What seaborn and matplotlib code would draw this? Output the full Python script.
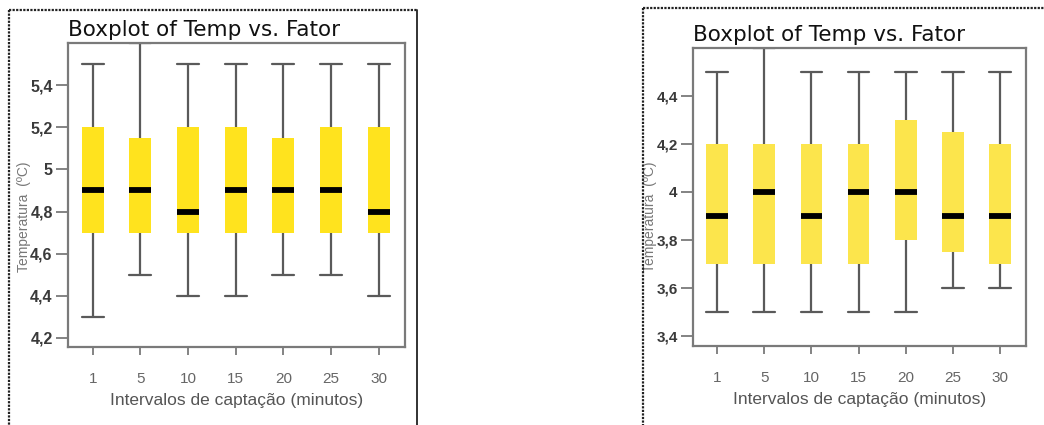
import numpy as np
import pandas as pd
import seaborn as sns
import matplotlib
matplotlib.use("Agg")
import matplotlib.pyplot as plt
from matplotlib.ticker import FuncFormatter
from matplotlib.lines import Line2D

# ---- data (five-number summaries) ----
intervals = ["1", "5", "10", "15", "20", "25", "30"]

left_min = [4.3, 4.5, 4.4, 4.4, 4.5, 4.5, 4.4]
left_q1 = [4.7, 4.7, 4.7, 4.7, 4.7, 4.7, 4.7]
left_med = [4.9, 4.9, 4.8, 4.9, 4.9, 4.9, 4.8]
left_q3 = [5.2, 5.15, 5.2, 5.2, 5.15, 5.2, 5.2]
left_max = [5.5, 5.6, 5.5, 5.5, 5.5, 5.5, 5.5]

right_min = [3.5, 3.5, 3.5, 3.5, 3.5, 3.6, 3.6]
right_q1 = [3.7, 3.7, 3.7, 3.7, 3.8, 3.75, 3.7]
right_med = [3.9, 4.0, 3.9, 4.0, 4.0, 3.9, 3.9]
right_q3 = [4.2, 4.2, 4.2, 4.2, 4.3, 4.25, 4.2]
right_max = [4.5, 4.6, 4.5, 4.5, 4.5, 4.5, 4.5]

left_ticks = [4.2, 4.4, 4.6, 4.8, 5.0, 5.2, 5.4]
right_ticks = [3.4, 3.6, 3.8, 4.0, 4.2, 4.4]

title = "Boxplot of Temp vs. Fator"
xlabel = "Intervalos de captação (minutos)"
ylabel = "Temperatura  (ºC)"


def frame(mins, q1s, meds, q3s, maxs):
    rows = []
    for cat, a, b, c, d, e in zip(intervals, mins, q1s, meds, q3s, maxs):
        for v in (a, b, c, d, e):
            rows.append({"Intervalo": cat, "Temp": v})
    return pd.DataFrame(rows)


df_left = frame(left_min, left_q1, left_med, left_q3, left_max)
df_right = frame(right_min, right_q1, right_med, right_q3, right_max)

sns.set_theme(style="white")
plt.rcParams["font.family"] = ["DejaVu Sans"]

W, H = 1044, 425
fig = plt.figure(figsize=(W / 100, H / 100), dpi=100)
fig.patch.set_facecolor("white")


def px_axes(x0, y0, x1, y1):
    return fig.add_axes([x0 / W, 1 - y1 / H, (x1 - x0) / W, (y1 - y0) / H])


# outer frames
def fig_line(xs, ys, **kw):
    fig.add_artist(Line2D([x / W for x in xs], [1 - y / H for y in ys],
                          transform=fig.transFigure, color="#222222", **kw))

fig_line([9, 9], [10, 425], lw=1.6, ls=(0, (1, 0.6)))
fig_line([9, 417], [10, 10], lw=1.6, ls=(0, (1, 0.6)))
fig_line([417, 417], [10, 425], lw=1.3)
fig_line([643, 643], [8, 425], lw=1.6, ls=(0, (1, 0.6)))
fig_line([643, 1044], [8, 8], lw=1.6, ls=(0, (1, 0.6)))

spine_c = "#7a7a7a"
whisk_c = "#5a5a5a"
BOXW = 0.46


def draw(ax, df, color, ylim, ticks, xlim, ylab_x, ylab_y, ytick_size):
    sns.boxplot(data=df, x="Intervalo", y="Temp", order=intervals, ax=ax,
                color=color, saturation=1, width=BOXW, whis=np.inf,
                linewidth=1.6, fliersize=0,
                boxprops=dict(facecolor=color, edgecolor="none", linewidth=0),
                whiskerprops=dict(color=whisk_c, linewidth=1.6),
                capprops=dict(color=whisk_c, linewidth=1.6),
                medianprops=dict(color="black", linewidth=4.2, solid_capstyle="butt"))
    # widen caps to the full box width
    for ln in ax.lines:
        x = np.asarray(ln.get_xdata(), dtype=float)
        y = np.asarray(ln.get_ydata(), dtype=float)
        if len(x) == 2 and y[0] == y[1] and ln.get_color() != "black" and ln.get_linewidth() < 3:
            c = x.mean()
            ln.set_xdata([c - BOXW / 2, c + BOXW / 2])
    ax.set_ylim(*ylim)
    ax.set_xlim(*xlim)
    ax.set_yticks(ticks)
    ax.yaxis.set_major_formatter(FuncFormatter(lambda v, p: f"{v:g}".replace(".", ",")))
    for s in ax.spines.values():
        s.set_color(spine_c)
        s.set_linewidth(1.6)
    ax.tick_params(axis="y", which="both", left=True, length=9, width=1.3,
                   color=spine_c, labelsize=ytick_size, labelcolor="#3a3a3a", pad=2)
    ax.tick_params(axis="x", bottom=True, length=6, width=1.3, color=spine_c,
                   labelsize=11, labelcolor="#666666", pad=12)
    for t in ax.get_yticklabels():
        t.set_fontweight("bold")
        t.set_family(["Liberation Sans"])
    for t in ax.get_xticklabels():
        t.set_family(["Liberation Sans"])
    ax.set_xlabel(xlabel, fontsize=12.5, color="#555555", labelpad=5,
                  family=["Liberation Sans"])
    ax.set_ylabel(ylabel, fontsize=10, color="#777777", family=["Liberation Sans"])
    ax.yaxis.set_label_coords(ylab_x, ylab_y)
    ax.set_title(title, loc="left", fontsize=15.5, color="#111111", pad=5)


axL = px_axes(68, 43, 405, 347)
draw(axL, df_left, "#FFE31E", (4.157, 5.6), left_ticks, (-0.52, 6.55), -0.11, 0.43, 11.5)

axR = px_axes(693, 48, 1026, 346)
draw(axR, df_right, "#FCE54C", (3.358, 4.6), right_ticks, (-0.51, 6.55), -0.108, 0.433, 11)

fig.savefig("out.png", dpi=100, facecolor="white")
